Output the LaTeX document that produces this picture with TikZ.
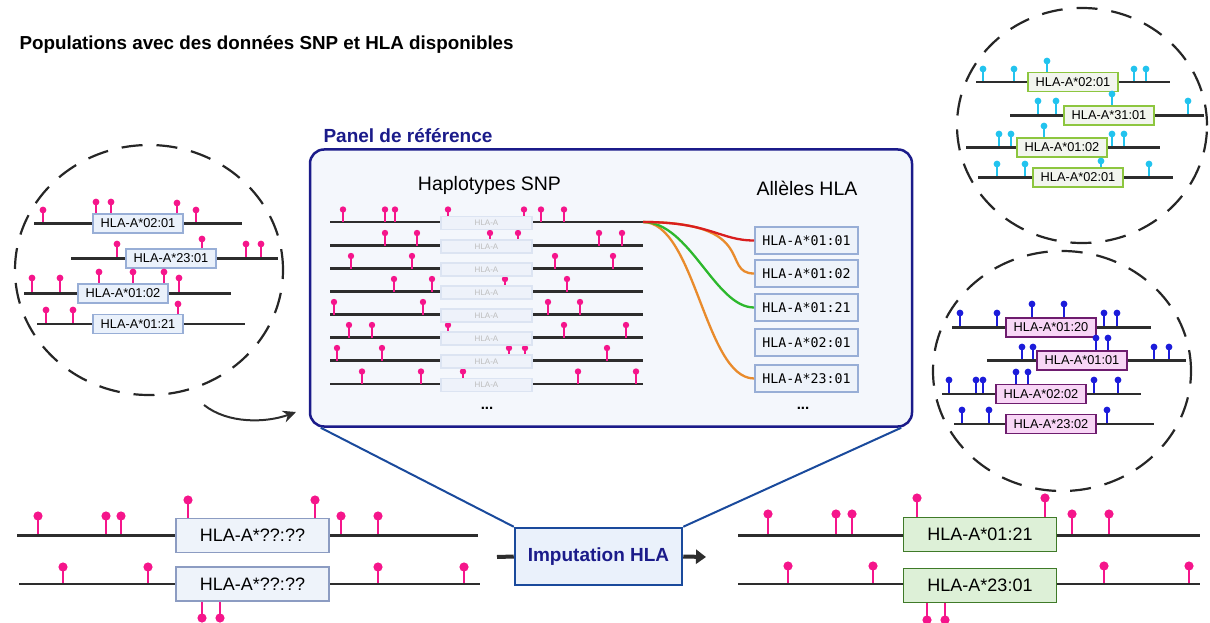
\documentclass[tikz,border=0pt]{standalone}
\usepackage{fontspec}
\setmainfont{Liberation Sans}
\newfontfamily\allelemono{DejaVu Sans Mono}
\usetikzlibrary{arrows.meta}

\definecolor{snppink}{HTML}{F5158B}
\definecolor{snpcyan}{HTML}{22C3EE}
\definecolor{snpblue}{HTML}{1C1CDA}
\definecolor{chromgrey}{HTML}{2D2D2D}
\definecolor{popline}{HTML}{98AED6}
\definecolor{popfill}{HTML}{EAF1FB}
\definecolor{limeline}{HTML}{8DC63F}
\definecolor{limefill}{HTML}{F2F5EE}
\definecolor{plumline}{HTML}{6E1C6E}
\definecolor{plumfill}{HTML}{F8D6F6}
\definecolor{greenline}{HTML}{3F7A28}
\definecolor{greenfill}{HTML}{DDF0D7}
\definecolor{queryline}{HTML}{8C9CC2}
\definecolor{queryfill}{HTML}{EEF3FA}
\definecolor{panelfill}{HTML}{F4F7FC}
\definecolor{navy}{HTML}{1B1B8A}
\definecolor{trapblue}{HTML}{1A4A9C}
\definecolor{ghostline}{HTML}{DCE4F2}
\definecolor{ghostfill}{HTML}{EEF2FA}
\definecolor{ghosttext}{HTML}{BDBDBD}
\definecolor{linkred}{HTML}{D91E1E}
\definecolor{linkorange}{HTML}{E98B2C}
\definecolor{linkgreen}{HTML}{2DB82D}

% lollipop SNPs: colour, head radius, base y, list of x/head y
\newcommand{\snps}[4]{%
  \foreach \px/\py in {#4}{%
    \draw[#1, line width=0.5*#2] (\px,#3) -- (\px,\py);
    \fill[#1] (\px,\py) circle[radius=#2pt];
  }}

\begin{document}
\begin{tikzpicture}[x=1pt, y=-1pt,
  chrom/.style={draw=chromgrey, line width=2.5pt},
  popring/.style={draw=black!85, line width=2.2pt, dash pattern=on 21pt off 14pt},
  popbox/.style={draw=popline, fill=popfill, line width=1.8pt, inner sep=0pt,
    minimum width=90pt, minimum height=19pt, font=\fontsize{12.8}{14}\selectfont},
  limebox/.style={popbox, draw=limeline, fill=limefill},
  plumbox/.style={popbox, draw=plumline, fill=plumfill},
  ghostbox/.style={draw=ghostline, fill=ghostfill, line width=1.2pt, inner sep=0pt,
    minimum width=91pt, minimum height=13pt, text=ghosttext, font=\fontsize{8}{9}\selectfont},
  allelebox/.style={draw=popline, fill=queryfill, line width=1.8pt, inner sep=0pt,
    minimum width=103pt, minimum height=27pt, font=\allelemono\fontsize{13.3}{15}\selectfont},
  querybox/.style={draw=queryline, fill=queryfill, line width=1.8pt, inner sep=0pt,
    minimum width=153pt, minimum height=34pt, font=\fontsize{18}{20}\selectfont},
  resultbox/.style={querybox, draw=greenline, fill=greenfill},
  link/.style={line width=2.3pt},
  trap/.style={draw=trapblue, line width=2pt}]

\useasboundingbox (0,0) rectangle (1210,623);

% title
\node[anchor=west, font=\bfseries\fontsize{18.8}{20}\selectfont] (title) at (16,45)
  {Populations avec des données SNP et HLA disponibles};

% left population
\draw[popring] (149,270) ellipse [x radius=134pt, y radius=125pt];
\snps{snppink}{3.4}{223.5}{43/210, 96/202, 111/202, 177/203, 196/210}
\draw[chrom] (34,223.5) -- (242,223.5);
\node[popbox] (lp1) at (138,223.5) {HLA-A*02:01};
\snps{snppink}{3.4}{258.5}{117/244, 202/239, 246/244, 261/244}
\draw[chrom] (71,258.5) -- (278,258.5);
\node[popbox] (lp2) at (171,258.5) {HLA-A*23:01};
\snps{snppink}{3.4}{293.5}{32/278, 60/278, 99/272, 133/272, 164/272, 179/278}
\draw[chrom] (24,293.5) -- (231,293.5);
\node[popbox] (lp3) at (123,293.5) {HLA-A*01:02};
\snps{snppink}{3.4}{324}{46/310, 73/310, 178/304}
\draw[chrom] (37,324) -- (245,324);
\node[popbox] (lp4) at (138,324) {HLA-A*01:21};

\coordinate (arcstart) at (204,405);
\coordinate (arcend) at (296,412);
\draw[chromgrey, line width=2pt, -{Stealth[length=13pt,width=12pt]}]
  (arcstart) .. controls (228,424) and (266,423) .. (arcend);

% top right population
\draw[popring] (1082,125.5) ellipse [x radius=125pt, y radius=117.5pt];
\snps{snpcyan}{3.4}{82}{983/69, 1014/69, 1047/61, 1134/69, 1146/69}
\draw[chrom] (976,82) -- (1170,82);
\node[limebox] (tp1) at (1073,82) {HLA-A*02:01};
\snps{snpcyan}{3.4}{115.5}{1038/101, 1056/101, 1112/94, 1188/101}
\draw[chrom] (1010,115.5) -- (1204,115.5);
\node[limebox] (tp2) at (1109,115.5) {HLA-A*31:01};
\snps{snpcyan}{3.4}{147.5}{999/134, 1011/134, 1044/126, 1112/134, 1124/134}
\draw[chrom] (966,147.5) -- (1160,147.5);
\node[limebox] (tp3) at (1062,147.5) {HLA-A*01:02};
\snps{snpcyan}{3.4}{177.5}{997/164, 1025/164, 1101/161, 1149/164}
\draw[chrom] (978,177.5) -- (1173,177.5);
\node[limebox] (tp4) at (1078,177.5) {HLA-A*02:01};

% bottom right population
\draw[popring] (1062,371) ellipse [x radius=129pt, y radius=120pt];
\snps{snpblue}{3.4}{327.5}{960/313, 997/313, 1032/304, 1064/304, 1104/313, 1117/313}
\draw[chrom] (952,327.5) -- (1151,327.5);
\node[plumbox] (bp1) at (1051,327.5) {HLA-A*01:20};
\snps{snpblue}{3.4}{360.5}{1022/347, 1033/347, 1096/338, 1108/338, 1154/347, 1169/347}
\draw[chrom] (987,360.5) -- (1186,360.5);
\node[plumbox] (bp2) at (1082,360.5) {HLA-A*01:01};
\snps{snpblue}{3.4}{394}{949/380, 976/380, 983/380, 1016/372, 1028/372, 1094/380, 1118/380}
\draw[chrom] (942,394) -- (1141,394);
\node[plumbox] (bp3) at (1041,394) {HLA-A*02:02};
\snps{snpblue}{3.4}{424}{962/410, 989/410, 1107/410}
\draw[chrom] (954,424) -- (1154,424);
\node[plumbox] (bp4) at (1051,424) {HLA-A*23:02};

% reference panel
\node[draw=navy, fill=panelfill, line width=2.5pt, rounded corners=14pt,
  minimum width=602pt, minimum height=277pt] (panel) at (611,288) {};
\node[anchor=west, text=navy, font=\bfseries\fontsize{19}{21}\selectfont] (paneltitle)
  at (320,136) {Panel de référence};
\node[font=\fontsize{19.5}{21}\selectfont] (hapt) at (489.5,185) {Haplotypes SNP};
\node[font=\fontsize{19.5}{21}\selectfont] (allt) at (807,188) {Allèles HLA};

\foreach \ly in {222,245.5,268.5,291.5,314.5,337.5,360.5,384}
  \draw[chrom] (330,\ly) -- (643,\ly);
\snps{snppink}{3.2}{222}{343/209.5, 385/209.5, 395/209.5, 448/209.5, 524/209.5, 541/209.5, 564/209.5}
\snps{snppink}{3.2}{245.5}{385/233, 417/233, 490/233, 518/233, 599/233, 622/233}
\snps{snppink}{3.2}{268.5}{351/256, 412/256, 555/256, 613/256}
\snps{snppink}{3.2}{291.5}{394/279, 432/279, 505/279, 567/279}
\snps{snppink}{3.2}{314.5}{334/302, 423/302, 548/302, 580/302}
\snps{snppink}{3.2}{337.5}{349/325, 372/325, 448/325, 564/325, 626/325}
\snps{snppink}{3.2}{360.5}{337/348, 382/348, 509/348, 525/348, 607/348}
\snps{snppink}{3.2}{384}{362/371.5, 421/371.5, 463/371.5, 578/371.5, 636/371.5}
\foreach \ly [count=\k] in {222,245.5,268.5,291.5,314.5,337.5,360.5,384}
  \node[ghostbox] (ghost\k) at (486.5,\ly+1) {HLA-A};
\node[font=\bfseries\fontsize{15}{16}\selectfont] (hdots) at (487,408) {...};

\node[allelebox] (a1) at (806.5,240.5) {HLA-A*01:01};
\node[allelebox] (a2) at (806.5,273.5) {HLA-A*01:02};
\node[allelebox] (a3) at (806.5,307.5) {HLA-A*01:21};
\node[allelebox] (a4) at (806.5,342.5) {HLA-A*02:01};
\node[allelebox] (a5) at (806.5,378.5) {HLA-A*23:01};
\node[font=\bfseries\fontsize{15}{16}\selectfont] (adots) at (803,408) {...};

\coordinate (hapend) at (643,222);
\draw[link, linkorange] (hapend) .. controls (695,222) and (705,378.5) .. (a5.west);
\draw[link, linkgreen] (hapend) .. controls (690,222) and (715,307.5) .. (a3.west);
\draw[link, linkorange] (hapend) .. controls (760,222) and (720,273.5) .. (a2.west);
\draw[link, linkred] (hapend) .. controls (710,222) and (720,240.5) .. (a1.west);

% imputation step
\node[draw=trapblue, fill=popfill, line width=2.5pt, text=navy, minimum width=167pt,
  minimum height=57pt, font=\bfseries\fontsize{19}{21}\selectfont] (imp)
  at (598.5,556.5) {Imputation HLA};
\draw[trap] ([xshift=12pt]panel.south west) -- (imp.north west);
\draw[trap] (imp.north east) -- ([xshift=-12pt]panel.south east);
\coordinate (impin) at (497,557);
\coordinate (impout) at (706,557);
\draw[chromgrey, line width=4pt] (impin) -- (imp.west);
\draw[chromgrey, line width=4pt, -{Triangle[length=10pt,width=14pt]}] (imp.east) -- (impout);

% individuals to impute
\snps{snppink}{4.6}{535.5}{38/516, 106/516, 121/516, 188/500, 315/500, 341/516, 378/516}
\draw[chrom] (17,535.5) -- (478,535.5);
\node[querybox] (q1) at (252.5,535.5) {HLA-A*??:??};
\snps{snppink}{4.6}{584}{63/567, 148/567, 378/567, 464/567, 202/618, 220/618}
\draw[chrom] (19,584) -- (480,584);
\node[querybox] (q2) at (252.5,584) {HLA-A*??:??};

% imputed result
\snps{snppink}{4.6}{535.5}{768/514, 836/514, 852/514, 917/498, 1045/498, 1072/514, 1109/514}
\draw[chrom] (738,535.5) -- (1200,535.5);
\node[resultbox] (r1) at (980,534.5) {HLA-A*01:21};
\snps{snppink}{4.6}{584}{788/566, 873/566, 1104/566, 1189/566, 927/620, 945/620}
\draw[chrom] (738,584) -- (1200,584);
\node[resultbox] (r2) at (980,585.5) {HLA-A*23:01};
\end{tikzpicture}
\end{document}
